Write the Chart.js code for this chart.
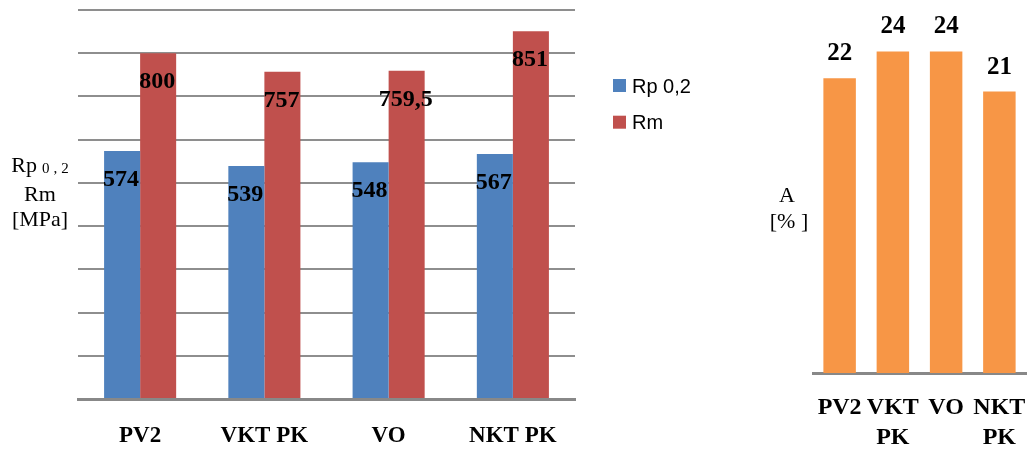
<!DOCTYPE html>
<html>
<head>
<meta charset="utf-8">
<script src="https://cdn.jsdelivr.net/npm/chart.js@4.4.0/dist/chart.umd.min.js"></script>
<style>
  html, body { margin: 0; padding: 0; background: #fff; }
  body { width: 1030px; height: 452px; position: relative; overflow: hidden; }
  #strength { position: absolute; left: 0; top: 0; }
  #elongation { position: absolute; left: 760px; top: 0; }
</style>
</head>
<body>
<canvas id="strength" width="740" height="452"></canvas>
<canvas id="elongation" width="270" height="452"></canvas>
<script>
// Material states
const materials = ['PV2', 'VKT PK', 'VO', 'NKT PK'];
// Yield strength Rp 0,2 [MPa]
const yieldStrength = [574, 539, 548, 567];
// Tensile strength Rm [MPa]
const tensileStrength = [800, 757, 759.5, 851];
// Elongation A [%]
const elongation = [22, 24, 24, 21];
// Series names
const strengthSeries = ['Rp 0,2', 'Rm'];
// Strength axis range (gridline every 100 MPa)
const strengthMin = 0, strengthMax = 900, strengthStep = 100;
// Elongation axis range
const elongMin = 0, elongMax = 25;

const BLUE = '#4F81BD', RED = '#C0504D', ORANGE = '#F79646';
const GRID = '#8e8e8e', AXIS = '#888888';
const SERIF = '"Liberation Serif", "Times New Roman", serif';
const SANS = '"Liberation Sans", Arial, sans-serif';

const fmt = v => String(v).replace('.', ',');

// Keep the plot area fixed: labels must not shrink it
function fixedAxisHeight(h) {
  return function (s) {
    s.height = h;
    s.paddingLeft = 0;
    s.paddingRight = 0;
  };
}

// Value labels, axis caption and legend for the strength chart
const strengthDecor = {
  id: 'strengthDecor',
  afterDatasetsDraw(chart) {
    const { ctx, chartArea } = chart;
    ctx.save();
    ctx.fillStyle = '#000';
    ctx.textBaseline = 'alphabetic';

    // values inside the top of each bar
    ctx.font = 'bold 24px ' + SERIF;
    ctx.textAlign = 'center';
    chart.data.datasets.forEach((ds, i) => {
      chart.getDatasetMeta(i).data.forEach((bar, j) => {
        ctx.fillText(fmt(ds.data[j]), bar.x - 1, bar.y + 35);
      });
    });

    // axis caption: Rp with subscript 0,2 / Rm / [MPa]
    const cx = chartArea.left - 38;
    ctx.font = '22px ' + SERIF;
    const rp = 'Rp';
    const rpW = ctx.measureText(rp).width;
    const sub = ['0', ',', '2'];
    ctx.font = '15px ' + SERIF;
    const gap = 4;
    let subW = 0;
    sub.forEach((c, k) => { subW += ctx.measureText(c).width + (k < sub.length - 1 ? gap : 0); });
    const spaceW = 5;
    let x = cx - (rpW + spaceW + subW) / 2;
    ctx.textAlign = 'left';
    ctx.font = '22px ' + SERIF;
    ctx.fillText(rp, x, chartArea.top + 162);
    x += rpW + spaceW;
    ctx.font = '15px ' + SERIF;
    sub.forEach(c => {
      ctx.fillText(c, x, chartArea.top + 163);
      x += ctx.measureText(c).width + gap;
    });
    ctx.textAlign = 'center';
    ctx.font = '22px ' + SERIF;
    ctx.fillText('Rm', cx, chartArea.top + 191);
    ctx.fillText('[MPa]', cx, chartArea.top + 216);

    // legend
    const lx = chartArea.right + 38;
    const ly = chartArea.top + 69;
    ctx.textAlign = 'left';
    ctx.font = '20px ' + SANS;
    chart.data.datasets.forEach((ds, i) => {
      const y = ly + i * 36.7;
      ctx.fillStyle = ds.backgroundColor;
      ctx.fillRect(lx, y, 13, 13);
      ctx.fillStyle = '#000';
      ctx.fillText(ds.label, lx + 19, y + 13.5);
    });
    ctx.restore();
  }
};

// Value labels above bars and axis caption for the elongation chart
const elongDecor = {
  id: 'elongDecor',
  afterDatasetsDraw(chart) {
    const { ctx, chartArea } = chart;
    ctx.save();
    ctx.fillStyle = '#000';
    ctx.textBaseline = 'alphabetic';
    ctx.textAlign = 'center';
    ctx.font = 'bold 25px ' + SERIF;
    const ds = chart.data.datasets[0];
    chart.getDatasetMeta(0).data.forEach((bar, j) => {
      ctx.fillText(fmt(ds.data[j]), bar.x, bar.y - 18);
    });
    ctx.font = '22px ' + SERIF;
    const cx = chartArea.left - 26;
    ctx.fillText('A', cx, 202);
    ctx.fillText('[% ]', cx + 2, 228);
    ctx.restore();
  }
};

new Chart(document.getElementById('strength'), {
  type: 'bar',
  data: {
    labels: materials,
    datasets: [
      { label: strengthSeries[0], data: yieldStrength, backgroundColor: BLUE, borderWidth: 0 },
      { label: strengthSeries[1], data: tensileStrength, backgroundColor: RED, borderWidth: 0 }
    ]
  },
  options: {
    responsive: false,
    animation: false,
    layout: { padding: { left: 78, right: 165, top: 10, bottom: 0 } },
    datasets: { bar: { categoryPercentage: 0.58, barPercentage: 1 } },
    plugins: { legend: { display: false }, tooltip: { enabled: false } },
    scales: {
      x: {
        grid: { display: false, drawTicks: false },
        border: { display: true, color: AXIS, width: 3 },
        ticks: {
          autoSkip: false, maxRotation: 0, minRotation: 0,
          color: '#000', padding: 23,
          font: { family: SERIF, size: 23, weight: 'bold' }
        },
        afterFit: fixedAxisHeight(53)
      },
      y: {
        min: strengthMin, max: strengthMax,
        ticks: { display: false, stepSize: strengthStep },
        grid: { color: GRID, lineWidth: 2, drawTicks: false },
        border: { display: false },
        afterFit(s) { s.width = 0; }
      }
    }
  },
  plugins: [strengthDecor]
});

new Chart(document.getElementById('elongation'), {
  type: 'bar',
  data: {
    labels: materials.map(m => m.split(' ')),
    datasets: [
      { label: 'A', data: elongation, backgroundColor: ORANGE, borderWidth: 0 }
    ]
  },
  options: {
    responsive: false,
    animation: false,
    layout: { padding: { left: 53, right: 4, top: 38, bottom: 0 } },
    datasets: { bar: { categoryPercentage: 0.61, barPercentage: 1 } },
    plugins: { legend: { display: false }, tooltip: { enabled: false } },
    scales: {
      x: {
        grid: { display: false, drawTicks: false },
        border: { display: true, color: AXIS, width: 3 },
        ticks: {
          autoSkip: false, maxRotation: 0, minRotation: 0,
          color: '#000', padding: 20,
          font: { family: SERIF, size: 24, weight: 'bold', lineHeight: 1.25 }
        },
        afterFit: fixedAxisHeight(79)
      },
      y: {
        min: elongMin, max: elongMax,
        ticks: { display: false },
        grid: { display: false, drawTicks: false },
        border: { display: false },
        afterFit(s) { s.width = 0; }
      }
    }
  },
  plugins: [elongDecor]
});
</script>
</body>
</html>
